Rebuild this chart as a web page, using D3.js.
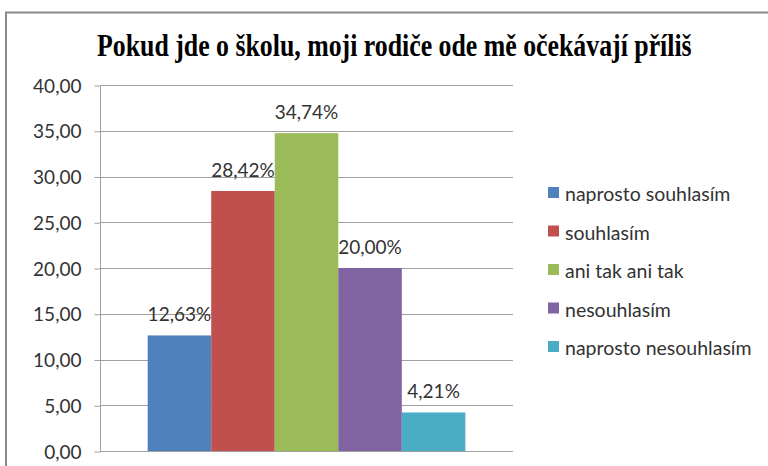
<!DOCTYPE html>
<html><head><meta charset="utf-8">
<script src="https://cdn.jsdelivr.net/npm/d3@7"></script>
<style>html,body{margin:0;padding:0;background:#fff;}svg{display:block;}</style>
</head><body>
<svg id="c" width="768" height="466"></svg>
<script>
const title = "Pokud jde o školu, moji rodiče ode mě očekávají příliš";
const series = ["naprosto souhlasím","souhlasím","ani tak ani tak","nesouhlasím","naprosto nesouhlasím"];
const values = [12.63, 28.42, 34.74, 20.00, 4.21];
const colors = ["#4F81BD","#C0504D","#9BBB59","#8064A2","#4BACC6"];
const yTicks = [0,5,10,15,20,25,30,35,40];

const svg = d3.select("#c");
const fmt = v => v.toFixed(2).replace(".", ",");
const L = 100, R = 513, T = 85, B = 451;

svg.append("rect").attr("x",6).attr("y",12.5).attr("width",800).attr("height",500)
  .attr("fill","#fff").attr("stroke","#8a8a8a").attr("stroke-width",2);

const tt = svg.append("text").attr("x",0).attr("y",0)
  .attr("font-family","Liberation Serif").attr("font-weight","bold").attr("font-size",31)
  .attr("fill","#000").text(title);
const tw = tt.node().getComputedTextLength();
tt.attr("transform",`translate(97,56) scale(${595/tw},1)`);

const y = d3.scaleLinear().domain([0,40]).range([B,T]);
const x = d3.scaleBand().domain(series).range([L,R]).paddingInner(0).paddingOuter(0.75);

const g = svg.append("g");
g.selectAll("line.grid").data(yTicks).join("line").attr("class","grid")
  .attr("x1",L).attr("x2",R).attr("y1",d=>Math.round(y(d))+0.5).attr("y2",d=>Math.round(y(d))+0.5)
  .attr("stroke","#a0a0a0").attr("stroke-width",1);

const yAxis = d3.axisLeft(y).tickValues(yTicks).tickFormat(fmt).tickSize(6).tickPadding(13);
const ax = svg.append("g").attr("transform",`translate(${L+0.5},0.5)`).call(yAxis);
ax.select(".domain").attr("stroke","#a0a0a0").attr("d",`M0,${T-0.5}V${B-0.5}`);
ax.selectAll(".tick line").attr("stroke","#a0a0a0");
ax.selectAll(".tick text").attr("font-family","Lato").attr("font-size",19).attr("fill","#333").attr("dy","0.35em");

svg.selectAll("rect.bar").data(values).join("rect").attr("class","bar")
  .attr("x",(d,i)=>x(series[i])).attr("width",x.bandwidth())
  .attr("y",d=>y(d)).attr("height",d=>B-y(d)).attr("fill",(d,i)=>colors[i]);

svg.selectAll("text.val").data(values).join("text").attr("class","val")
  .attr("x",(d,i)=>x(series[i])+x.bandwidth()/2).attr("y",d=>y(d)-14)
  .attr("text-anchor","middle").attr("font-family","Lato").attr("font-size",19).attr("fill","#333")
  .text(d=>fmt(d)+"%");

const lg = svg.append("g");
const ly = d3.scalePoint().domain(series).range([192,346]);
series.forEach((s,i)=>{
  lg.append("rect").attr("x",548).attr("y",ly(s)-5).attr("width",11).attr("height",11).attr("fill",colors[i]);
  lg.append("text").attr("x",565).attr("y",ly(s)+9)
    .attr("font-family","Lato").attr("font-size",19.5).attr("fill","#333").text(s);
});
</script>
</body></html>
